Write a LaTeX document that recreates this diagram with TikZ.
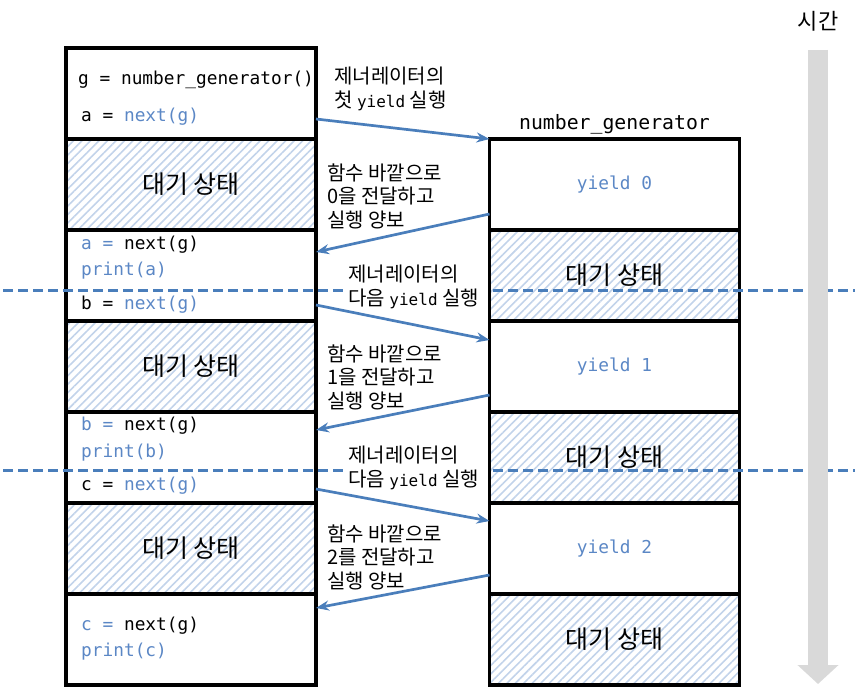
\documentclass[tikz,border=0pt]{standalone}
\usepackage{fontspec}
\setmainfont{Noto Sans CJK KR}
\setmonofont{DejaVu Sans Mono}
\usetikzlibrary{positioning,arrows.meta,patterns.meta}
\definecolor{codeblue}{HTML}{5B87C5}
\definecolor{flowblue}{HTML}{4A7EBB}
\definecolor{hatchblue}{HTML}{C2D3EA}
\definecolor{timegray}{HTML}{D9D9D9}
\newcommand{\kw}[1]{\textcolor{codeblue}{#1}}
\newcommand{\yld}{{\ttfamily\fontsize{16}{20}\selectfont yield}}

\begin{document}
\begin{tikzpicture}[x=1pt, y=-1pt, node distance=0pt,
    box/.style={draw, line width=3.5pt, minimum width=250pt, minimum height=91pt, inner sep=0pt, outer sep=0pt},
    wait/.style={box, pattern={Lines[angle=45, distance=6pt, line width=1.6pt]}, pattern color=hatchblue, font=\fontsize{25}{28}\selectfont},
    code/.style={anchor=west, inner sep=0pt, text height=13pt, text depth=4pt, font=\ttfamily\fontsize{17.8}{20}\selectfont},
    note/.style={anchor=west, align=left, inner sep=0pt, font=\fontsize{20}{23.5}\selectfont},
    flow/.style={draw=flowblue, line width=2.7pt, -{Stealth[length=13pt, width=10pt]}},
    cut/.style={draw=flowblue, line width=3pt, dash pattern=on 10pt off 5pt}]
    \useasboundingbox (0,0) rectangle (855,698);

    % caller
    \node[box] (l1) at (191,93.5) {};
    \node[wait, below=of l1] (l2) {대기 상태};
    \node[box, below=of l2] (l3) {};
    \node[wait, below=of l3] (l4) {대기 상태};
    \node[box, below=of l4] (l5) {};
    \node[wait, below=of l5] (l6) {대기 상태};
    \node[box, below=of l6] (l7) {};

    % generator
    \node[box, font=\ttfamily\fontsize{17.8}{20}\selectfont, text=codeblue] (r1) at (614.5,184.5) {yield 0};
    \node[wait, below=of r1] (r2) {대기 상태};
    \node[box, below=of r2, font=\ttfamily\fontsize{17.8}{20}\selectfont, text=codeblue] (r3) {yield 1};
    \node[wait, below=of r3] (r4) {대기 상태};
    \node[box, below=of r4, font=\ttfamily\fontsize{17.8}{20}\selectfont, text=codeblue] (r5) {yield 2};
    \node[wait, below=of r5] (r6) {대기 상태};
    \node[above=5pt of r1, inner sep=0pt, font=\ttfamily\fontsize{19.8}{22}\selectfont] (title) {number\_generator};

    % code
    \node[code] (g0) at (78,80) {g = number\_generator()};
    \node[code] (a0) at (81,117) {a = \kw{next(g)}};
    \node[code] (a1) at (81,245) {\kw{a =} next(g)};
    \node[code] (a2) at (81,271) {\kw{print(a)}};
    \node[code] (b0) at (81,305) {b = \kw{next(g)}};
    \node[code] (b1) at (81,426) {\kw{b =} next(g)};
    \node[code] (b2) at (81,453) {\kw{print(b)}};
    \node[code] (c0) at (81,486) {c = \kw{next(g)}};
    \node[code] (c1) at (81,626) {\kw{c =} next(g)};
    \node[code] (c2) at (81,652) {\kw{print(c)}};

    % steps
    \draw[cut] (3,290) -- (343,290) (493,290) -- (855,290);
    \draw[cut] (3,470) -- (343,470) (493,470) -- (855,470);

    \node[note] (n1) at (334,89) {제너레이터의\\첫 \yld{} 실행};
    \node[note] (n2) at (327,196) {함수 바깥으로\\0을 전달하고\\실행 양보};
    \node[note] (n3) at (348,287) {제너레이터의\\다음 \yld{} 실행};
    \node[note] (n4) at (327,377) {함수 바깥으로\\1을 전달하고\\실행 양보};
    \node[note] (n5) at (348,468) {제너레이터의\\다음 \yld{} 실행};
    \node[note] (n6) at (327,557) {함수 바깥으로\\2를 전달하고\\실행 양보};

    \draw[flow] (l1.east |- 0,119) -- (r1.north west);
    \draw[flow] (r1.west |- 0,214) -- (l3.east |- 0,252);
    \draw[flow] (l3.east |- 0,305) -- (r3.west |- 0,340);
    \draw[flow] (r3.west |- 0,395) -- (l5.east |- 0,430);
    \draw[flow] (l5.east |- 0,489) -- (r5.west |- 0,521);
    \draw[flow] (r5.west |- 0,575) -- (l7.east |- 0,608);

    % time
    \node[inner sep=0pt, font=\fontsize{22}{26}\selectfont] (time) at (818,21) {시간};
    \coordinate (tend) at (818,684);
    \draw[timegray, line width=20pt, -{Triangle[length=19pt, width=40pt]}] (time.south |- 0,50) -- (tend);
\end{tikzpicture}
\end{document}
